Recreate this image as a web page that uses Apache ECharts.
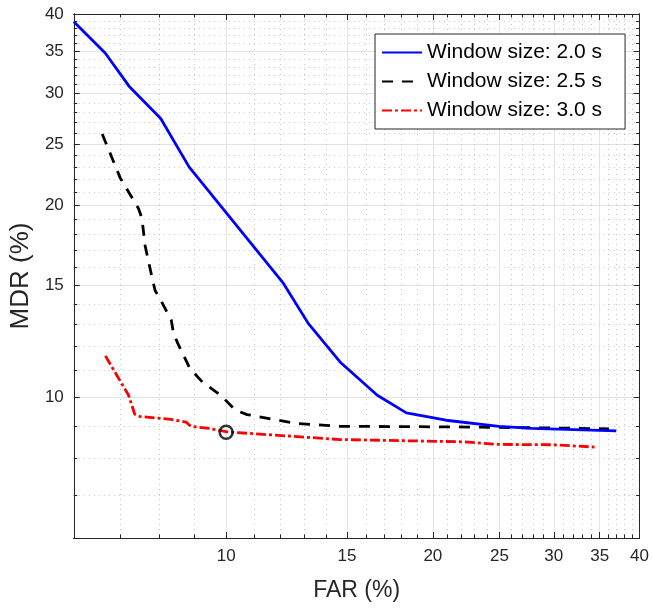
<!DOCTYPE html>
<html><head><meta charset="utf-8">
<script src="https://cdn.jsdelivr.net/npm/echarts@6/dist/echarts.min.js"></script>
<style>html,body{margin:0;padding:0;background:#fff}#c{width:652px;height:608px}</style>
</head><body><div id="c"></div>
<script>
// ---- data ----
const seriesNames = ['Window size: 2.0 s', 'Window size: 2.5 s', 'Window size: 3.0 s'];

const blueFAR = [6.0, 6.67, 7.22, 8.03, 8.83, 12.12, 13.17, 14.65, 16.6, 18.3, 20.9, 24.95, 27.9, 37.0];
const blueMDR = [38.9, 34.7, 30.8, 27.4, 23.0, 15.08, 13.05, 11.35, 10.06, 9.44, 9.19, 8.99, 8.92, 8.84];

const blackFAR = [6.60, 7.01, 7.45, 7.54, 7.62, 7.80, 7.88, 8.03, 8.32, 8.38, 8.50, 8.78, 8.85, 9.23, 9.82, 10.32, 10.73, 11.9, 12.7, 14.65, 21.8, 28.5, 36.1];
const blackMDR = [25.9, 22.1, 19.8, 19.1, 17.3, 15.4, 14.7, 14.2, 13.2, 12.6, 12.15, 11.3, 11.1, 10.56, 10.06, 9.53, 9.38, 9.19, 9.08, 8.99, 8.97, 8.94, 8.91];

const redFAR = [6.67, 7.21, 7.36, 7.48, 8.31, 8.74, 8.88, 9.44, 10.03, 14.65, 22.1, 24.95, 29.8, 34.4];
const redMDR = [11.6, 10.06, 9.39, 9.32, 9.22, 9.13, 8.99, 8.92, 8.81, 8.57, 8.5, 8.42, 8.41, 8.34];

const markerFAR = [10.0];
const markerMDR = [8.8];

const majorTicks = [10, 15, 20, 25, 30, 35, 40];
const minorTicks = [6, 7, 8, 9, 11, 12, 13, 14, 16, 17, 18, 19, 21, 22, 23, 24, 26, 27, 28, 29, 31, 32, 33, 34, 36, 37, 38, 39];

// ---- chart ----
const font = '"Liberation Sans", Arial, Helvetica, sans-serif';
const axisColor = '#262626';
const zip = (a, b) => a.map((v, i) => [v, b[i]]);

function mkAxis(pos, ticks, tickLen, labels, split, extra) {
  return Object.assign({
    type: 'log', logBase: 10, min: 6, max: 40, position: pos,
    axisLine: { show: true, onZero: false, lineStyle: { color: axisColor, width: 1 } },
    axisTick: { show: true, inside: true, length: tickLen, customValues: ticks, lineStyle: { color: axisColor, width: 1 } },
    axisLabel: labels ? {
      show: true, customValues: ticks, color: axisColor, fontSize: 17, fontFamily: font, margin: 10,
      formatter: v => String(Math.round(v))
    } : { show: false },
    splitLine: split ? { show: true, lineStyle: split } : { show: false },
    minorTick: { show: false }, minorSplitLine: { show: false }
  }, extra || {});
}
const majorGrid = { color: '#e3e3e3', width: 1, type: 'solid' };
const minorGrid = { color: '#c4c4c4', width: 1, type: [1, 4] };

const chart = echarts.init(document.getElementById('c'), null, { renderer: 'canvas' });
chart.setOption({
  animation: false,
  backgroundColor: '#fff',
  grid: { left: 72, right: 10, top: 14, bottom: 70, containLabel: false },
  xAxis: [
    mkAxis('bottom', majorTicks, 6, true, majorGrid, { name: 'FAR (%)', nameLocation: 'middle', nameGap: 41,
      nameTextStyle: { fontSize: 23, fontFamily: font, color: axisColor } }),
    mkAxis('bottom', minorTicks, 3.5, false, minorGrid),
    mkAxis('top', majorTicks, 6, false, null),
    mkAxis('top', minorTicks, 3.5, false, null)
  ],
  yAxis: [
    mkAxis('left', majorTicks, 6, true, majorGrid, { name: 'MDR (%)', nameLocation: 'middle', nameGap: 38,
      nameTextStyle: { fontSize: 26, fontFamily: font, color: axisColor } }),
    mkAxis('left', minorTicks, 3.5, false, minorGrid),
    mkAxis('right', majorTicks, 6, false, null),
    mkAxis('right', minorTicks, 3.5, false, null)
  ],
  legend: {
    orient: 'vertical', left: 375, top: 34, data: seriesNames,
    itemWidth: 40, itemHeight: 14, itemGap: 8, padding: [8, 23, 8, 6],
    itemStyle: { opacity: 0 },
    borderColor: axisColor, borderWidth: 1, backgroundColor: '#fff', borderRadius: 0,
    textStyle: { fontSize: 21, fontFamily: font, color: '#000', lineHeight: 21 }
  },
  series: [
    { name: seriesNames[0], type: 'line', data: zip(blueFAR, blueMDR), symbol: 'none', z: 4,
      lineStyle: { color: '#0000ff', width: 2.8 }, itemStyle: { color: '#0000ff' } },
    { name: seriesNames[1], type: 'line', data: zip(blackFAR, blackMDR), symbol: 'none', z: 3,
      lineStyle: { color: '#000000', width: 2.8, type: [11, 9] }, itemStyle: { color: '#000000' } },
    { name: seriesNames[2], type: 'line', data: zip(redFAR, redMDR), symbol: 'none', z: 3,
      lineStyle: { color: '#ff0000', width: 2.8, type: [10, 3, 3, 3] }, itemStyle: { color: '#ff0000' } },
    { name: 'marker', type: 'scatter', data: zip(markerFAR, markerMDR), symbol: 'circle', symbolSize: 13, z: 5,
      itemStyle: { color: 'rgba(0,0,0,0)', borderColor: '#000', borderWidth: 2.5 }, silent: true }
  ]
});
</script></body></html>
